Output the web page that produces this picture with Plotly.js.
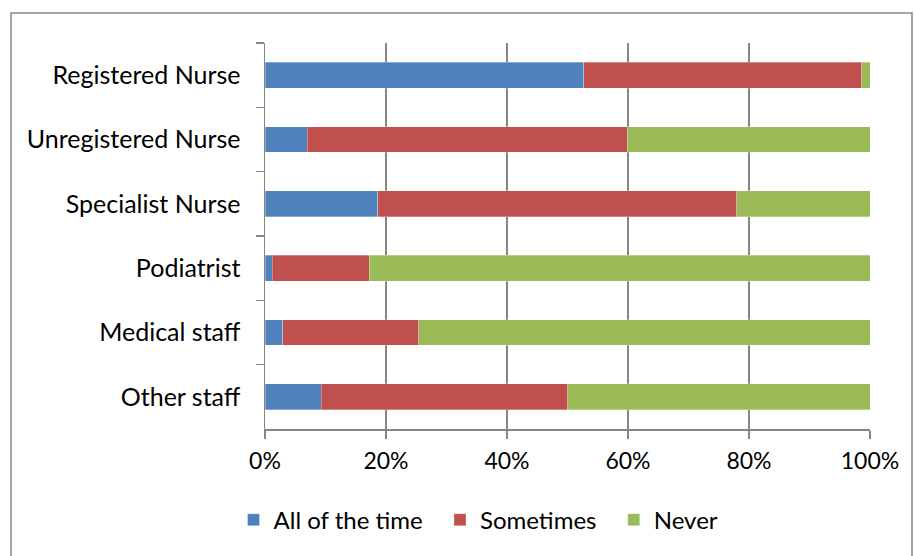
<!DOCTYPE html>
<html>
<head>
<meta charset="utf-8">
<script src="https://cdn.plot.ly/plotly-3.0.1.min.js"></script>
<style>html,body{margin:0;padding:0;background:#fff;}#chart{width:915px;height:556px;}</style>
</head>
<body>
<div id="chart"></div>
<script>
const categories = ["Registered Nurse", "Unregistered Nurse", "Specialist Nurse", "Podiatrist", "Medical staff", "Other staff"];
const allOfTheTime = [52.7, 7.0, 18.6, 1.2, 2.9, 9.3];
const sometimes = [45.9, 52.9, 59.4, 16.0, 22.5, 40.7];
const never = [1.4, 40.1, 22.0, 82.8, 74.6, 50.0];
const seriesNames = ["All of the time", "Sometimes", "Never"];
const xTicks = [0, 20, 40, 60, 80, 100];
const xTickLabels = ["0%", "20%", "40%", "60%", "80%", "100%"];

const FONT = "Lato, 'Open Sans', sans-serif";
const PAD = "\u00a0\u00a0";
const mk = (name, vals, color, pad) => ({
  type: "bar", orientation: "h", name: name + pad, x: vals, y: categories,
  marker: {color: color, line: {color: "rgba(255,255,255,0.5)", width: 0.6}},
  hoverinfo: "x+y+name"
});
const data = [
  mk(seriesNames[0], allOfTheTime, "#4F81BD", PAD),
  mk(seriesNames[1], sometimes, "#C0504D", PAD),
  mk(seriesNames[2], never, "#9BBB59", "")
];
const layout = {
  width: 915, height: 556,
  margin: {l: 265, r: 45, t: 43, b: 127},
  barmode: "stack", bargap: 0.6,
  paper_bgcolor: "#fff", plot_bgcolor: "#fff",
  font: {family: FONT, size: 23, color: "#000"},
  showlegend: true,
  legend: {orientation: "h", x: -0.052, xanchor: "left", y: -0.236, yanchor: "middle",
           font: {family: FONT, size: 24, color: "#000"}, itemwidth: 30, traceorder: "normal"},
  xaxis: {range: [0, 100], tickvals: xTicks, ticktext: xTickLabels,
          showgrid: true, gridcolor: "#868686", gridwidth: 1.5,
          zeroline: false, showline: true, linecolor: "#868686", linewidth: 1.5,
          ticks: "outside", ticklen: 8, tickcolor: "#868686", tickwidth: 1.5,
          ticklabelstandoff: 3,
          tickfont: {family: FONT, size: 23, color: "#000"}, fixedrange: true},
  yaxis: {type: "category", autorange: "reversed", showgrid: false, zeroline: false,
          showline: true, linecolor: "#868686", linewidth: 1.5,
          ticks: "outside", tickson: "boundaries", ticklen: 8, tickcolor: "#868686", tickwidth: 1.5,
          ticklabelstandoff: 18,
          tickfont: {family: FONT, size: 25, color: "#000"}, fixedrange: true},
  shapes: [{type: "rect", xref: "paper", yref: "paper",
            x0: -0.4198, x1: 1.0694, y0: -0.34, y1: 1.0777,
            line: {color: "#868686", width: 1.5}, fillcolor: "rgba(0,0,0,0)", layer: "below"}]
};
Plotly.newPlot("chart", data, layout, {displayModeBar: false, staticPlot: true});
</script>
</body>
</html>
